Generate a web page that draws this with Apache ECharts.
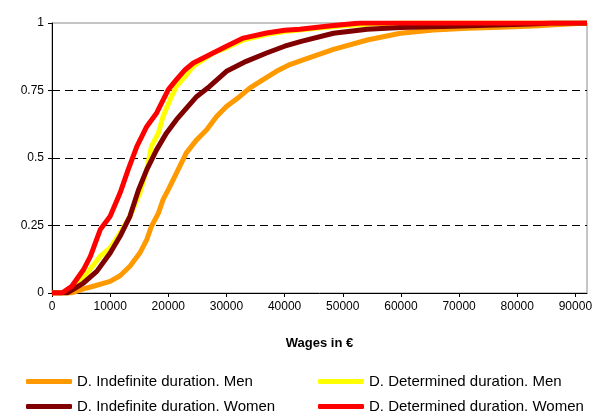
<!DOCTYPE html>
<html>
<head>
<meta charset="utf-8">
<script src="https://cdn.jsdelivr.net/npm/echarts@6/dist/echarts.min.js"></script>
<style>
  html, body { margin: 0; padding: 0; background: #fff; }
  #chart { width: 603px; height: 414px; }
</style>
</head>
<body>
<div id="chart"></div>
<script>
// series names
const NAME_IND_MEN = 'D. Indefinite duration. Men'
const NAME_DET_MEN = 'D. Determined duration. Men'
const NAME_IND_WOMEN = 'D. Indefinite duration. Women'
const NAME_DET_WOMEN = 'D. Determined duration. Women'

// Indefinite duration, men (orange)
const indMenWage = [0, 3400, 5400, 7100, 10000, 11700, 13400, 15100, 16300, 17100, 18300, 19100, 20000, 21400, 23100, 24900, 26600, 28300, 30000, 32300, 34000, 36300, 38600, 40900, 42700, 48400, 54200, 59900, 65600, 71400, 77100, 82800, 88000, 92000]
const indMenCdf = [0, 0, 0.015, 0.025, 0.043, 0.064, 0.099, 0.148, 0.198, 0.247, 0.296, 0.346, 0.383, 0.444, 0.519, 0.568, 0.605, 0.654, 0.691, 0.728, 0.759, 0.79, 0.821, 0.846, 0.86, 0.902, 0.937, 0.962, 0.974, 0.981, 0.984, 0.989, 0.995, 1]

// Determined duration, men (yellow)
const detMenWage = [0, 2600, 5400, 8300, 10000, 11700, 13400, 15100, 16300, 17100, 18300, 19100, 20300, 21400, 22900, 24300, 26000, 27700, 30000, 33000, 37000, 40000, 45000, 50000, 55000, 60000, 92000]
const detMenCdf = [0, 0, 0.056, 0.136, 0.167, 0.222, 0.284, 0.37, 0.457, 0.543, 0.593, 0.654, 0.716, 0.765, 0.802, 0.84, 0.864, 0.889, 0.908, 0.938, 0.958, 0.968, 0.98, 0.99, 0.996, 1, 1]

// Indefinite duration, women (dark red)
const indWomenWage = [0, 2600, 5400, 7700, 10000, 11700, 13400, 14900, 16300, 18000, 19700, 21400, 22900, 24900, 27100, 30000, 33400, 36900, 40000, 42700, 48400, 54200, 59900, 69000, 82300, 86000, 92000]
const indWomenCdf = [0, 0, 0.037, 0.08, 0.148, 0.21, 0.284, 0.383, 0.457, 0.531, 0.593, 0.642, 0.679, 0.728, 0.765, 0.821, 0.858, 0.889, 0.914, 0.931, 0.962, 0.977, 0.983, 0.988, 0.996, 1, 1]

// Determined duration, women (red)
const detWomenWage = [0, 1700, 3400, 5400, 6600, 8300, 10000, 11700, 13100, 14600, 16300, 18000, 20000, 21400, 22900, 24300, 26600, 30000, 32900, 36900, 40000, 42600, 48000, 53000, 92000]
const detWomenCdf = [0, 0, 0.025, 0.086, 0.136, 0.235, 0.284, 0.37, 0.457, 0.543, 0.617, 0.667, 0.753, 0.79, 0.827, 0.852, 0.877, 0.914, 0.944, 0.963, 0.973, 0.977, 0.99, 1, 1]

const pairs = (xs, ys) => xs.map((x, i) => [x, ys[i]])

const font = 'Liberation Sans, Arial, sans-serif'

const makeSeries = (name, color, xs, ys) => ({
  name: name,
  type: 'line',
  data: pairs(xs, ys),
  showSymbol: false,
  symbol: 'none',
  animation: false,
  color: color,
  itemStyle: { color: color },
  lineStyle: { color: color, width: 5, join: 'round' }
})

const chart = echarts.init(document.getElementById('chart'))

// two legend columns so the swatches line up like the original
const legendBase = {
  orient: 'vertical',
  top: 373,
  height: 60,
  padding: 0,
  itemWidth: 46,
  itemHeight: 5,
  itemGap: 8,
  icon: 'roundRect',
  textStyle: { fontFamily: font, fontSize: 15, color: '#000', lineHeight: 17 }
}

chart.setOption({
  animation: false,
  backgroundColor: '#fff',
  grid: {
    left: 52,
    right: 16,
    top: 23,
    bottom: 121,
    show: true,
    borderColor: '#8c8c8c',
    borderWidth: 1
  },
  legend: [
    Object.assign({}, legendBase, { left: 26, data: [NAME_IND_MEN, NAME_IND_WOMEN] }),
    Object.assign({}, legendBase, { left: 318, data: [NAME_DET_MEN, NAME_DET_WOMEN] })
  ],
  xAxis: {
    type: 'value',
    min: 0,
    max: 92000,
    interval: 10000,
    name: 'Wages in €',
    nameLocation: 'middle',
    nameGap: 44,
    nameTextStyle: { fontFamily: font, fontSize: 13, fontWeight: 'bold', color: '#000' },
    axisLine: { show: true, lineStyle: { color: '#000', width: 1 } },
    axisTick: { show: true, length: 4, lineStyle: { color: '#000' } },
    axisLabel: {
      showMaxLabel: false,
      fontFamily: font,
      fontSize: 12,
      color: '#000',
      margin: 8,
      formatter: v => String(v)
    },
    splitLine: { show: false }
  },
  yAxis: {
    type: 'value',
    min: 0,
    max: 1,
    interval: 0.25,
    axisLine: { show: true, lineStyle: { color: '#000', width: 1 } },
    axisTick: { show: true, length: 4, lineStyle: { color: '#000' } },
    axisLabel: { fontFamily: font, fontSize: 12, color: '#000', margin: 8 },
    splitLine: {
      show: true,
      showMinLine: false,
      showMaxLine: false,
      lineStyle: { color: '#000', width: 1, type: [8, 5] }
    }
  },
  series: [
    makeSeries(NAME_IND_MEN, '#ff9900', indMenWage, indMenCdf),
    makeSeries(NAME_DET_MEN, '#ffff00', detMenWage, detMenCdf),
    makeSeries(NAME_IND_WOMEN, '#800000', indWomenWage, indWomenCdf),
    makeSeries(NAME_DET_WOMEN, '#ff0000', detWomenWage, detWomenCdf)
  ]
})
</script>
</body>
</html>
